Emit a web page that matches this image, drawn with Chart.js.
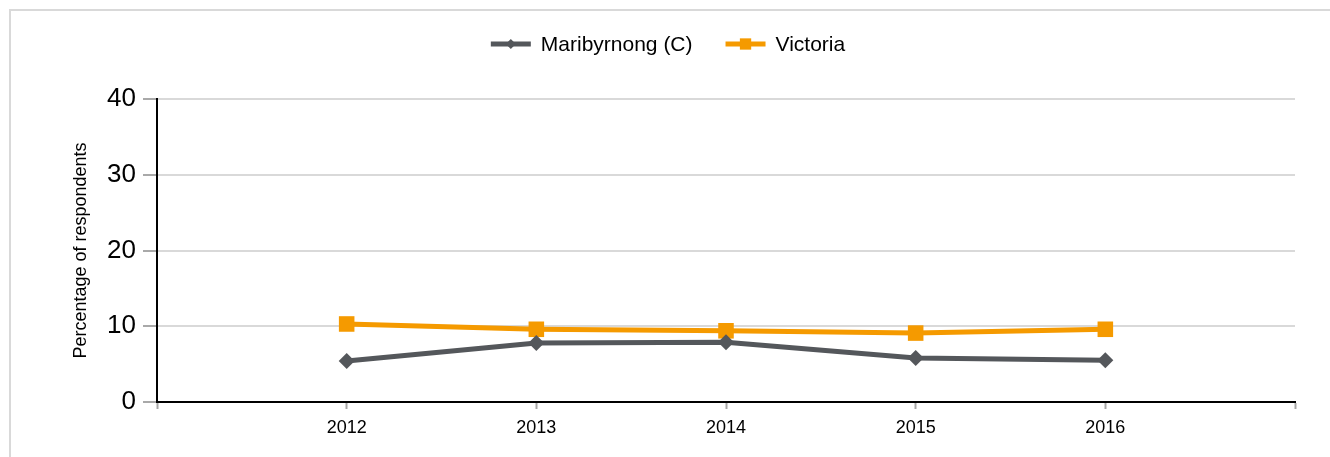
<!DOCTYPE html>
<html>
<head>
<meta charset="utf-8">
<script src="https://cdn.jsdelivr.net/npm/chart.js@4/dist/chart.umd.min.js"></script>
<style>
  html, body { margin: 0; padding: 0; background: #fff; }
  #wrap { position: relative; width: 1330px; height: 457px; overflow: hidden; }
  #frame {
    position: absolute; left: 9px; top: 9px; width: 1400px; height: 600px;
    border-left: 2px solid #d9d9d9; border-top: 2px solid #d9d9d9;
  }
  #chart { position: absolute; left: 0; top: 0; }
</style>
</head>
<body>
<div id="wrap">
  <div id="frame"></div>
  <canvas id="chart" width="1330" height="457"></canvas>
</div>
<script>
const years = [2012, 2013, 2014, 2015, 2016];
const maribyrnong = [5.4, 7.8, 7.9, 5.8, 5.5];
const victoria = [10.3, 9.6, 9.4, 9.1, 9.6];
const yTicks = [0, 10, 20, 30, 40];

const FONT = "'Liberation Sans', Arial, sans-serif";

// legend drawn as line sample + marker, centred above the plot
const lineLegend = {
  id: "lineLegend",
  afterDraw(chart) {
    const ctx = chart.ctx;
    ctx.save();
    ctx.font = "21px " + FONT;
    ctx.textBaseline = "middle";
    const sample = 40, gap = 10, itemGap = 33;
    const items = chart.data.datasets.map((ds) => ({
      ds,
      w: sample + gap + ctx.measureText(ds.label).width,
    }));
    const total = items.reduce((s, it) => s + it.w, 0) + itemGap * (items.length - 1);
    let x = 668 - total / 2;
    const y = 44;
    items.forEach((it) => {
      ctx.strokeStyle = it.ds.borderColor;
      ctx.lineWidth = 5;
      ctx.beginPath();
      ctx.moveTo(x, y);
      ctx.lineTo(x + sample, y);
      ctx.stroke();
      ctx.fillStyle = it.ds.borderColor;
      Chart.helpers.drawPoint(ctx, {
        pointStyle: it.ds.pointStyle,
        radius: it.ds.pointStyle === "rect" ? 8 : 5,
        borderWidth: 0,
      }, x + sample / 2, y);
      ctx.fillStyle = "#000";
      ctx.fillText(it.ds.label, x + sample + gap, y + 1);
      x += it.w + itemGap;
    });
    ctx.restore();
  },
};

new Chart(document.getElementById("chart"), {
  type: "line",
  data: {
    datasets: [
      {
        label: "Maribyrnong (C)",
        data: years.map((yr, i) => ({ x: yr, y: maribyrnong[i] })),
        borderColor: "#54575b",
        backgroundColor: "#54575b",
        borderWidth: 5,
        pointStyle: "rectRot",
        pointRadius: 8,
        pointBorderWidth: 0,
        tension: 0,
      },
      {
        label: "Victoria",
        data: years.map((yr, i) => ({ x: yr, y: victoria[i] })),
        borderColor: "#f59a00",
        backgroundColor: "#f59a00",
        borderWidth: 5,
        pointStyle: "rect",
        pointRadius: 11,
        pointBorderWidth: 0,
        tension: 0,
      },
    ],
  },
  plugins: [lineLegend],
  options: {
    responsive: false,
    animation: false,
    layout: { padding: { left: 0, right: 35, top: 99, bottom: 0 } },
    plugins: {
      legend: { display: false },
      tooltip: { enabled: false },
    },
    scales: {
      x: {
        type: "linear",
        min: years[0] - 1,
        max: years[years.length - 1] + 1,
        afterFit: (s) => { s.height = 55; },
        afterBuildTicks: (s) => {
          const t = [];
          for (let v = s.min; v <= s.max; v++) t.push({ value: v });
          s.ticks = t;
        },
        ticks: {
          callback: (v) => (years.includes(v) ? String(v) : ""),
          color: "#000",
          font: { family: FONT, size: 18 },
          padding: 8,
          maxRotation: 0,
          autoSkip: false,
        },
        grid: {
          drawOnChartArea: false,
          drawTicks: true,
          tickLength: 7,
          tickColor: "#a6a6a6",
          tickWidth: 2,
        },
        border: { color: "#000", width: 2 },
      },
      y: {
        min: 0,
        max: 40,
        afterFit: (s) => { s.width = 157; },
        afterBuildTicks: (s) => { s.ticks = yTicks.map((v) => ({ value: v })); },
        ticks: {
          color: "#000",
          font: { family: FONT, size: 26 },
          padding: 7,
        },
        grid: {
          color: "#d9d9d9",
          lineWidth: 2,
          tickColor: "#8c8c8c",
          tickLength: 14,
          tickWidth: 1.5,
        },
        border: { color: "#000", width: 2 },
        title: {
          display: true,
          text: "Percentage of respondents",
          color: "#000",
          font: { family: FONT, size: 18 },
          padding: { top: 70, bottom: 0 },
        },
      },
    },
  },
});
</script>
</body>
</html>
